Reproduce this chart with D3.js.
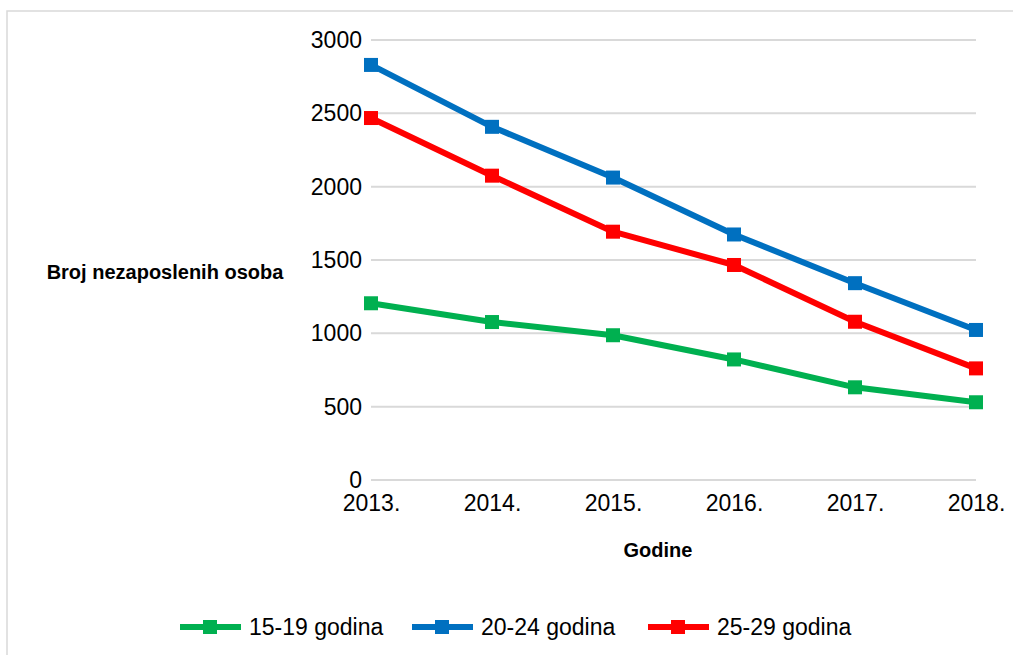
<!DOCTYPE html>
<html>
<head>
<meta charset="utf-8">
<script src="https://cdn.jsdelivr.net/npm/d3@7"></script>
<style>
  body { margin: 0; background: #fff; }
  text { font-family: "Liberation Sans", Arial, sans-serif; }
</style>
</head>
<body>
<div id="chart"></div>
<script>
// data
const years = ["2013.", "2014.", "2015.", "2016.", "2017.", "2018."]
const age15_19 = [1205, 1077, 987, 822, 632, 530]
const age20_24 = [2830, 2408, 2062, 1674, 1342, 1023]
const age25_29 = [2468, 2075, 1693, 1466, 1079, 761]
const yTicks = [0, 500, 1000, 1500, 2000, 2500, 3000]

const seriesNames = ["15-19 godina", "20-24 godina", "25-29 godina"]
const seriesColors = ["#00b050", "#0070c0", "#ff0000"]

const width = 1013, height = 655
const margin = {top: 40, right: 37, bottom: 175, left: 371}

const series = [age15_19, age20_24, age25_29].map(function(vals, i){
    return {name: seriesNames[i], color: seriesColors[i],
            values: vals.map(function(v, j){ return {year: years[j], value: v} })}
})

let svg = d3.select("#chart")
    .append("svg")
    .attr("width", width)
    .attr("height", height)

// outer border
svg.append("rect")
    .attr("x", 7).attr("y", 11)
    .attr("width", width + 20).attr("height", height + 20)
    .attr("fill", "none")
    .attr("stroke", "#d9d9d9")
    .attr("stroke-width", 1.5)

let x = d3.scalePoint()
    .domain(years)
    .range([margin.left, width - margin.right])

let y = d3.scaleLinear()
    .domain([0, 3000])
    .range([height - margin.bottom, margin.top])

// gridlines
svg.append("g")
    .selectAll("line")
    .data(yTicks)
    .enter()
    .append("line")
    .attr("x1", margin.left)
    .attr("x2", width - margin.right)
    .attr("y1", function(d){ return y(d) })
    .attr("y2", function(d){ return y(d) })
    .attr("stroke", "#d9d9d9")
    .attr("stroke-width", 2)

// y axis labels
let yAxis = svg.append("g")
    .attr("transform", `translate(${margin.left}, 0)`)
    .call(d3.axisLeft(y).tickValues(yTicks).tickSize(0).tickPadding(9).tickFormat(d3.format("d")))
yAxis.select(".domain").remove()
yAxis.selectAll("text")
    .style("font-family", "Liberation Sans, Arial, sans-serif")
    .style("font-size", "23px")
    .attr("fill", "#000")

// x axis labels
let xAxis = svg.append("g")
    .attr("transform", `translate(0, ${y(0)})`)
    .call(d3.axisBottom(x).tickSize(0).tickPadding(15))
xAxis.select(".domain").remove()
xAxis.selectAll("text")
    .style("font-family", "Liberation Sans, Arial, sans-serif")
    .style("font-size", "23px")
    .attr("fill", "#000")

// axis titles
svg.append("text")
    .attr("x", 165).attr("y", 279)
    .attr("text-anchor", "middle")
    .style("font-size", "20px")
    .style("font-weight", "bold")
    .text("Broj nezaposlenih osoba")

svg.append("text")
    .attr("x", 658).attr("y", 557)
    .attr("text-anchor", "middle")
    .style("font-size", "20px")
    .style("font-weight", "bold")
    .text("Godine")

// lines and markers
let line = d3.line()
    .x(function(d){ return x(d.year) })
    .y(function(d){ return y(d.value) })

let groups = svg.append("g")
    .selectAll("g")
    .data(series)
    .enter()
    .append("g")

groups.append("path")
    .attr("d", function(d){ return line(d.values) })
    .attr("fill", "none")
    .attr("stroke", function(d){ return d.color })
    .attr("stroke-width", 6)
    .attr("stroke-linejoin", "round")

groups.selectAll("rect")
    .data(function(d){ return d.values.map(function(v){ return {color: d.color, year: v.year, value: v.value} }) })
    .enter()
    .append("rect")
    .attr("x", function(d){ return x(d.year) - 7 })
    .attr("y", function(d){ return y(d.value) - 7 })
    .attr("width", 14)
    .attr("height", 14)
    .attr("fill", function(d){ return d.color })

// legend
const legendX = [180, 412, 648]
let legend = svg.append("g")
    .selectAll("g")
    .data(series)
    .enter()
    .append("g")
    .attr("transform", function(d, i){ return `translate(${legendX[i]}, 627)` })

legend.append("line")
    .attr("x1", 0).attr("x2", 61)
    .attr("stroke", function(d){ return d.color })
    .attr("stroke-width", 6)
legend.append("rect")
    .attr("x", 23).attr("y", -7)
    .attr("width", 14).attr("height", 14)
    .attr("fill", function(d){ return d.color })
legend.append("text")
    .attr("x", 69).attr("y", 8)
    .style("font-size", "23px")
    .text(function(d){ return d.name })
</script>
</body>
</html>
